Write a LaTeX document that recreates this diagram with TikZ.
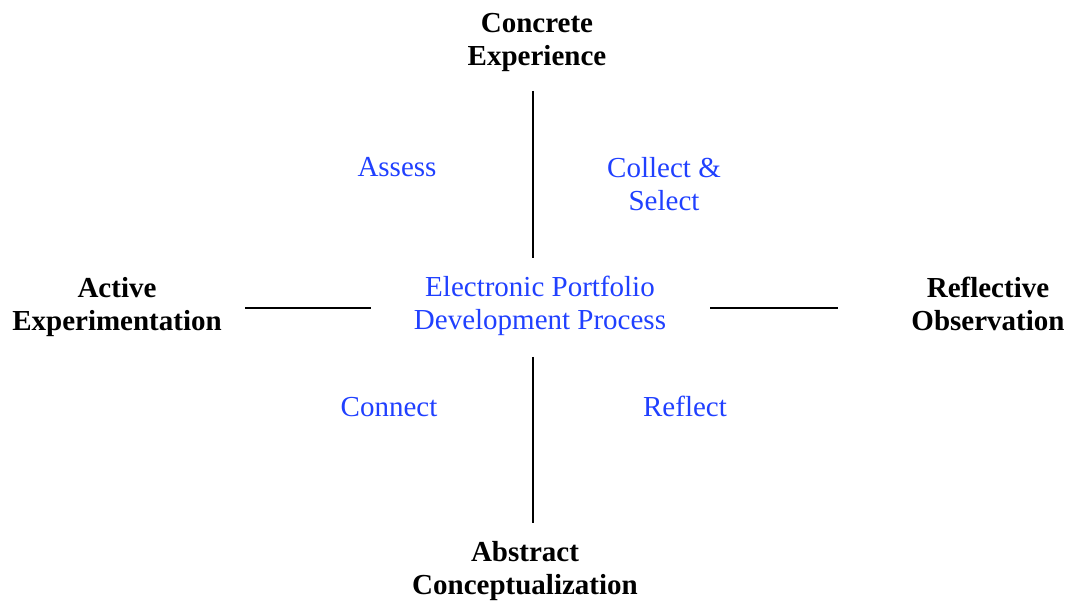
\documentclass[tikz,border=0pt]{standalone}
\usepackage{fontspec}
\setmainfont{Liberation Serif}
\definecolor{stageblue}{RGB}{32,64,255}
\begin{document}
\begin{tikzpicture}[x=1pt,y=-1pt,
  pole/.style={font=\fontsize{29}{33}\selectfont\bfseries, align=center, inner sep=0pt, text=black},
  phase/.style={font=\fontsize{29}{33}\selectfont, align=center, inner sep=0pt, text=stageblue},
  axis/.style={draw=black, line width=2pt}]
\useasboundingbox (0,0) rectangle (1069,601);

% the four poles of the learning cycle
\node[pole] (ce) at (537,42) {Concrete\\Experience};
\node[pole] (ae) at (117,307) {Active\\Experimentation};
\node[pole] (ro) at (988,304) {Reflective\\Observation};
\node[pole] (ac) at (525,571) {Abstract\\Conceptualization};

% portfolio stages
\node[phase] (center) at (540,306) {Electronic Portfolio\\Development Process};
\node[phase] (assess) at (397,167) {Assess};
\node[phase] (collect) at (664,184) {Collect \&\\Select};
\node[phase] (connect) at (389,407) {Connect};
\node[phase] (reflect) at (685,406) {Reflect};

% axis segments
\coordinate (vt1) at (533,91);
\coordinate (vt2) at (533,258);
\coordinate (vb1) at (533,357);
\coordinate (vb2) at (533,523);
\coordinate (hl1) at (245,308);
\coordinate (hl2) at (371,308);
\coordinate (hr1) at (710,308);
\coordinate (hr2) at (838,308);
\draw[axis] (vt1) -- (vt2);
\draw[axis] (vb1) -- (vb2);
\draw[axis] (hl1) -- (hl2);
\draw[axis] (hr1) -- (hr2);
\end{tikzpicture}
\end{document}
